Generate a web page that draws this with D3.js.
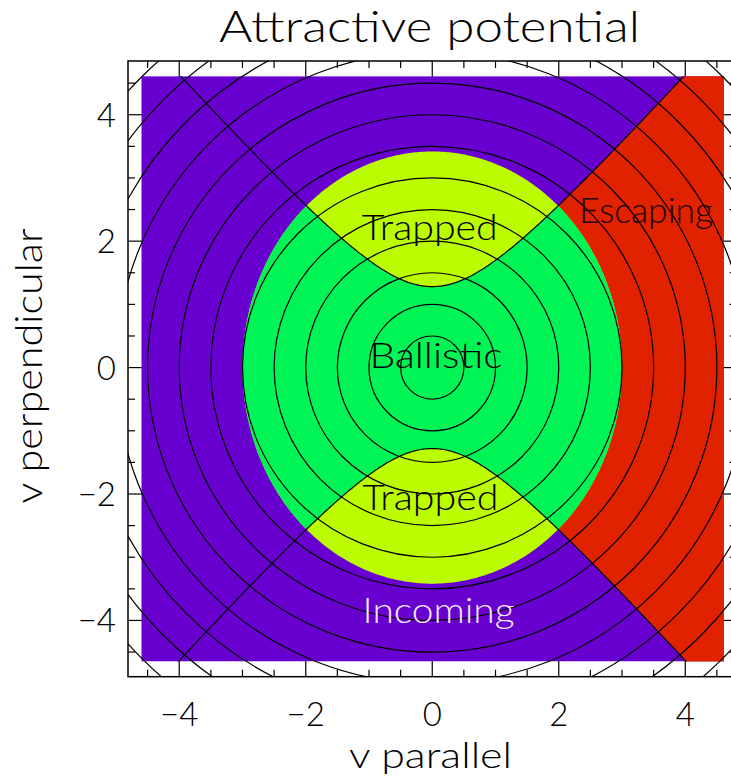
<!DOCTYPE html>
<html>
<head>
<meta charset="utf-8">
<script src="https://cdn.jsdelivr.net/npm/d3@7"></script>
<style>
  html, body { margin: 0; padding: 0; background: #fff; }
  svg { display: block; }
  text { font-family: "Lato", "DejaVu Sans", sans-serif; font-weight: 300; }
</style>
</head>
<body>
<svg id="chart" width="731" height="777"></svg>
<script>
// ---------------- data ----------------
const xDomain = [-4.81, 4.81];          // v parallel axis range
const yDomain = [-4.89, 4.85];          // v perpendicular axis range
const imageX = [-4.6, 4.61];            // extent of the coloured image
const imageY = [-4.65, 4.61];
const majorTicks = [-4, -2, 0, 2, 4];
const minorTicks = [-4.5, -3.5, -3, -2.5, -1.5, -1, -0.5, 0.5, 1, 1.5, 2.5, 3, 3.5, 4.5];
const contourRadii = [0.5, 1, 1.5, 2, 2.5, 3, 3.5, 4, 4.5, 5, 5.5, 6, 6.5];
// energy ellipse: vpar^2 + ellB*vperp^2 = ellR2
const ellR2 = 9.0, ellB = 0.77;
// trapping hyperbola: vperp^2 - hypK*vpar^2 = hypC
const hypK = 1.24, hypC = 1.64;
const regionNames = ["Incoming", "Escaping", "Trapped", "Ballistic"];
const regionColors = ["#6800d0", "#e02200", "#bcfc00", "#00f455"];
const labels = [
  {text: "Trapped",   vpar: -0.04, vperp: 2.02,  len: 136, color: "#000"},
  {text: "Ballistic", vpar: 0.06,  vperp: -0.01, len: 133, color: "#000"},
  {text: "Trapped",   vpar: -0.03, vperp: -2.25, len: 136, color: "#000"},
  {text: "Escaping",  vpar: 3.38,  vperp: 2.29,  len: 134, color: "#1a0000"},
  {text: "Incoming",  vpar: 0.10,  vperp: -4.04, len: 152, color: "#f4ecff"}
];
const title = "Attractive potential";
const xTitle = "v parallel";
const yTitle = "v perpendicular";

// ---------------- layout ----------------
const svg = d3.select("#chart");
const x = d3.scaleLinear().domain(xDomain).range([128, 736.5]);
const y = d3.scaleLinear().domain(yDomain).range([676.7, 61]);
const X0 = x.range()[0], X1 = x.range()[1], Y0 = y.range()[1], Y1 = y.range()[0];

const defs = svg.append("defs");
defs.append("clipPath").attr("id", "frameClip")
  .append("rect").attr("x", X0).attr("y", Y0).attr("width", X1 - X0).attr("height", Y1 - Y0);
defs.append("clipPath").attr("id", "imgClip")
  .append("rect").attr("x", x(imageX[0])).attr("y", y(imageY[1]))
  .attr("width", x(imageX[1]) - x(imageX[0])).attr("height", y(imageY[0]) - y(imageY[1]));

// hyperbola branch points
const vs = d3.range(-6, 6.0001, 0.02);
const hyp = v => Math.sqrt(hypC + hypK * v * v);
const upper = vs.map(v => [v, hyp(v)]);
const lower = vs.map(v => [v, -hyp(v)]);
const line = d3.line().x(d => x(d[0])).y(d => y(d[1]));

// between-branches polygon
const between = upper.concat(lower.slice().reverse());
defs.append("clipPath").attr("id", "betweenClip")
  .append("path").attr("d", line(between) + "Z");

// ---------------- ticks (under image) ----------------
const axisG = svg.append("g").attr("stroke", "#000").attr("stroke-width", 1.2);
function ticks(vals, len) {
  vals.forEach(v => {
    const px = x(v), py = y(v);
    axisG.append("line").attr("x1", px).attr("x2", px).attr("y1", Y1).attr("y2", Y1 - len);
    axisG.append("line").attr("x1", px).attr("x2", px).attr("y1", Y0).attr("y2", Y0 + len);
    axisG.append("line").attr("y1", py).attr("y2", py).attr("x1", X0).attr("x2", X0 + len);
    axisG.append("line").attr("y1", py).attr("y2", py).attr("x1", X1).attr("x2", X1 - len);
  });
}
ticks(majorTicks, 16);
ticks(minorTicks, 7);

// ---------------- coloured regions ----------------
const img = svg.append("g").attr("clip-path", "url(#imgClip)");
img.append("rect").attr("x", x(imageX[0])).attr("y", y(imageY[1]))
  .attr("width", x(imageX[1]) - x(imageX[0])).attr("height", y(imageY[0]) - y(imageY[1]))
  .attr("fill", regionColors[0]);
// escaping: between branches, vpar > 0
const esc = upper.filter(d => d[0] >= 0).concat(lower.filter(d => d[0] >= 0).reverse());
img.append("path").attr("d", line(esc) + "Z").attr("fill", regionColors[1]);
// trapped: inside ellipse
const ell = d3.range(0, 2 * Math.PI + 0.001, 0.01).map(t => [Math.sqrt(ellR2) * Math.cos(t), Math.sqrt(ellR2 / ellB) * Math.sin(t)]);
img.append("path").attr("d", line(ell) + "Z").attr("fill", regionColors[2]);
// ballistic: inside ellipse, between branches
img.append("g").attr("clip-path", "url(#betweenClip)")
  .append("path").attr("d", line(ell) + "Z").attr("fill", regionColors[3]);
// hyperbola lines
img.append("path").attr("d", line(upper)).attr("fill", "none").attr("stroke", "#000").attr("stroke-width", 1.2);
img.append("path").attr("d", line(lower)).attr("fill", "none").attr("stroke", "#000").attr("stroke-width", 1.2);

// ---------------- contour circles ----------------
const cg = svg.append("g").attr("clip-path", "url(#frameClip)");
cg.selectAll("ellipse").data(contourRadii).join("ellipse")
  .attr("cx", x(0)).attr("cy", y(0))
  .attr("rx", r => x(r) - x(0)).attr("ry", r => y(0) - y(r))
  .attr("fill", "none").attr("stroke", "#000").attr("stroke-width", 1.2);

// ---------------- frame ----------------
svg.append("rect").attr("x", X0).attr("y", Y0).attr("width", X1 - X0).attr("height", Y1 - Y0)
  .attr("fill", "none").attr("stroke", "#000").attr("stroke-width", 1.5);

// ---------------- tick labels ----------------
const fmt = v => (v < 0 ? "\u2212" : "") + Math.abs(v);
svg.append("g").selectAll("text").data(majorTicks).join("text")
  .attr("x", d => x(d)).attr("y", 726).attr("text-anchor", "middle")
  .attr("font-size", 33).text(fmt);
svg.append("g").selectAll("text").data(majorTicks).join("text")
  .attr("x", 116).attr("y", d => y(d) + 12).attr("text-anchor", "end")
  .attr("font-size", 33).text(fmt);

// ---------------- titles ----------------
svg.append("text").attr("x", 219).attr("y", 42).attr("font-size", 43)
  .attr("textLength", 421).attr("lengthAdjust", "spacingAndGlyphs").text(title);
svg.append("text").attr("x", 349).attr("y", 768).attr("font-size", 36)
  .attr("textLength", 163).attr("lengthAdjust", "spacingAndGlyphs").text(xTitle);
svg.append("text").attr("transform", "translate(42,366) rotate(-90)").attr("text-anchor", "middle")
  .attr("font-size", 37).attr("textLength", 275).attr("lengthAdjust", "spacingAndGlyphs").text(yTitle);

// ---------------- region labels ----------------
svg.append("g").selectAll("text").data(labels).join("text")
  .attr("x", d => x(d.vpar)).attr("y", d => y(d.vperp)).attr("text-anchor", "middle")
  .attr("font-size", 35).attr("fill", d => d.color)
  .attr("textLength", d => d.len).attr("lengthAdjust", "spacingAndGlyphs")
  .text(d => d.text);
</script>
</body>
</html>
